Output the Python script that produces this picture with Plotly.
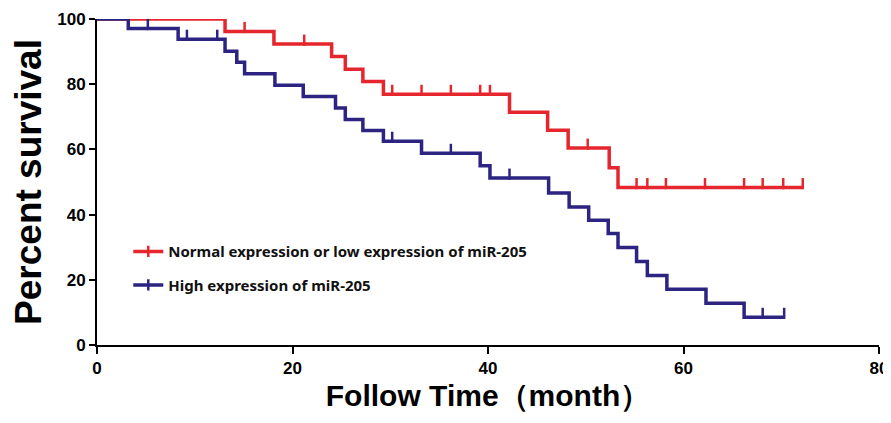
import plotly.graph_objects as go
import numpy as np

# Kaplan-Meier step data (time in months, percent survival after the step)
red_times = [0, 13.1, 18.1, 24.0, 25.4, 27.2, 29.3, 42.2, 46.1, 48.2, 52.4, 53.3, 72.2]
red_surv = [100, 96.2, 92.3, 88.5, 84.6, 80.8, 76.9, 71.4, 65.9, 60.4, 54.4, 48.3, 48.3]
red_censor = [3.2, 6.2, 9.2, 12.3, 15.1, 21.2, 30.2, 33.2, 36.2, 39.2, 40.2, 50.2,
              55.2, 56.3, 58.2, 62.2, 66.2, 68.1, 70.2, 72.2]

blue_times = [0, 3.2, 8.3, 13.1, 14.3, 15.1, 18.2, 21.1, 24.4, 25.4, 27.2, 29.3, 33.2,
              39.2, 40.2, 46.2, 48.3, 50.3, 52.3, 53.3, 55.2, 56.3, 58.3, 62.3, 66.2, 70.3]
blue_surv = [100, 97.1, 93.8, 90.1, 86.7, 83.2, 79.7, 76.2, 72.7, 69.2, 65.8, 62.5, 58.8,
             55.0, 51.2, 46.6, 42.3, 38.3, 34.2, 29.9, 25.6, 21.3, 17.1, 12.8, 8.5, 8.5]
blue_censor = [5.2, 9.2, 12.3, 30.2, 36.2, 42.2, 68.1, 70.3]

x_ticks = [0, 20, 40, 60, 80]
y_ticks = [0, 20, 40, 60, 80, 100]

red_name = "Normal expression or low expression of miR-205"
blue_name = "High expression of miR-205"

RED = "#E5272D"
BLUE = "#2D2380"


def surv_at(times, surv, t):
    idx = np.searchsorted(np.array(times), t, side="right") - 1
    return surv[max(idx, 0)]


fig = go.Figure()


def add_group(times, surv, censor, color, name, group):
    fig.add_trace(go.Scatter(
        x=times, y=surv, mode="lines", line=dict(color=color, width=3.5, shape="hv"),
        name=name, showlegend=False, cliponaxis=False, hoverinfo="skip", legendgroup=group))
    # censor ticks: short vertical marks rising from the curve
    cy = [surv_at(times, surv, t) + 1.2 for t in censor]
    fig.add_trace(go.Scatter(
        x=censor, y=cy, mode="markers",
        marker=dict(symbol="line-ns", size=8, line=dict(color=color, width=2.5)),
        showlegend=False, cliponaxis=False, hoverinfo="skip", legendgroup=group))
    # legend entry
    fig.add_trace(go.Scatter(
        x=[None], y=[None], mode="lines+markers",
        line=dict(color=color, width=3.5),
        marker=dict(symbol="line-ns", size=8, line=dict(color=color, width=2.5)),
        name=name, showlegend=True, legendgroup=group))


add_group(red_times, red_surv, red_censor, RED, red_name, "r")
# blue drawn on top
add_group(blue_times, blue_surv, blue_censor, BLUE, blue_name, "b")

tick_font = dict(family="Liberation Sans, Arial", size=17, color="black", weight="bold")

fig.update_layout(
    width=883, height=415,
    margin=dict(l=89, r=12, t=11, b=78, autoexpand=False),
    paper_bgcolor="white", plot_bgcolor="white",
    showlegend=True,
    legend=dict(x=0.040, y=0.337, xanchor="left", yanchor="top",
                bgcolor="rgba(0,0,0,0)", tracegroupgap=11, itemwidth=30,
                font=dict(family="Noto Sans, Open Sans, Arial", size=15, color="#111", weight="bold")),
    xaxis=dict(range=[0, 80], tickvals=x_ticks, showgrid=False, zeroline=False, automargin=False,
               showline=True, linecolor="black", linewidth=2, ticks="outside", ticklen=7,
               tickwidth=2, tickcolor="black", tickfont=tick_font,
               title=dict(text="Follow Time（month）", standoff=8,
                          font=dict(family="Liberation Sans, Arial", size=30, color="black", weight="bold"))),
    yaxis=dict(range=[0, 100], tickvals=y_ticks, showgrid=False, zeroline=False, automargin=False,
               showline=True, linecolor="black", linewidth=2, ticks="outside", ticklen=6,
               tickwidth=2, tickcolor="black", tickfont=tick_font,
               title=dict(text="Percent survival", standoff=6,
                          font=dict(family="Liberation Sans, Arial", size=37, color="black", weight="bold"))),
)

fig.write_html("out.html")
